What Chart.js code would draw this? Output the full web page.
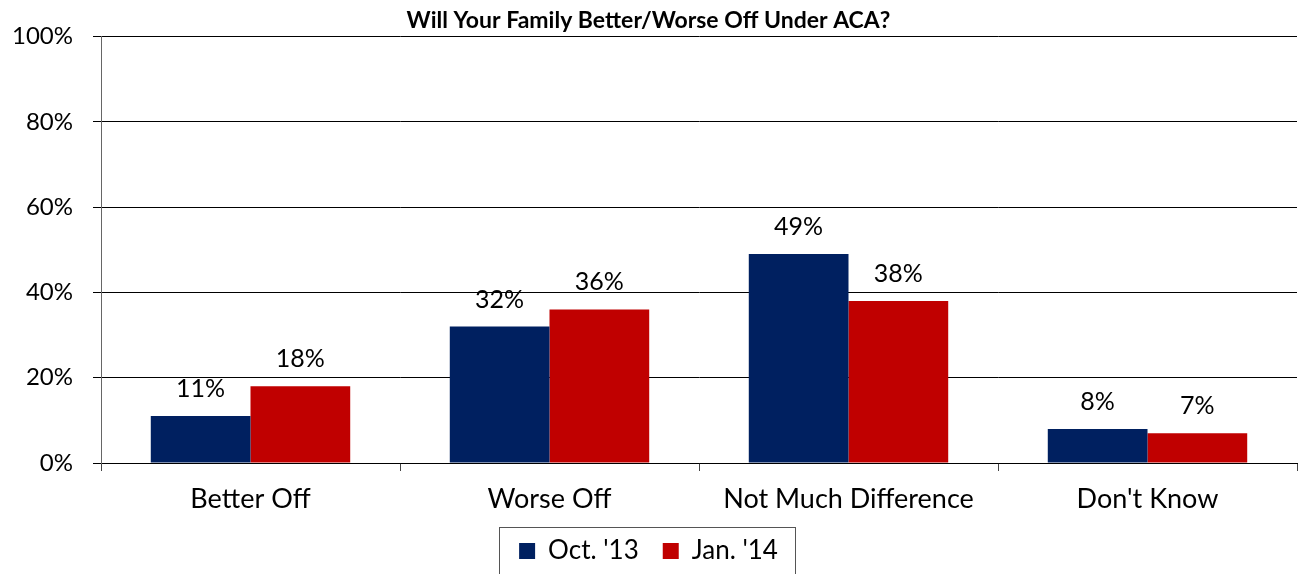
<!DOCTYPE html>
<html>
<head>
<meta charset="utf-8">
<script src="https://cdn.jsdelivr.net/npm/chart.js"></script>
<style>
  html, body { margin: 0; padding: 0; background: #fff; }
  #wrap { width: 1299px; height: 574px; }
</style>
</head>
<body>
<div id="wrap"><canvas id="acaChart"></canvas></div>
<script>
// date
var categories = ['Better Off', 'Worse Off', 'Not Much Difference', "Don't Know"];
var octValues = [11, 32, 49, 8];
var janValues = [18, 36, 38, 7];
var seriesNames = ["Oct. '13", "Jan. '14"];
var yTicks = [0, 20, 40, 60, 80, 100];

var FONT = 'Lato, "Open Sans", sans-serif';

// etichete cu valori deasupra barelor
var valueLabels = {
    id: 'valueLabels',
    afterDatasetsDraw: function(chart) {
        var ctx = chart.ctx;
        ctx.save();
        ctx.font = '25px ' + FONT;
        ctx.fillStyle = '#000';
        ctx.textAlign = 'center';
        ctx.textBaseline = 'alphabetic';
        chart.data.datasets.forEach(function(ds, i) {
            chart.getDatasetMeta(i).data.forEach(function(bar, j) {
                ctx.fillText(ds.data[j] + '%', bar.x, bar.y - 19);
            });
        });
        ctx.restore();
    }
};

// chenar in jurul legendei
var legendFrame = {
    id: 'legendFrame',
    afterDraw: function(chart) {
        var lg = chart.legend;
        if (!lg || !lg.legendHitBoxes.length) return;
        var boxes = lg.legendHitBoxes;
        var left = boxes[0].left - 20;
        var last = boxes[boxes.length - 1];
        var right = last.left + last.width + 17;
        var top = lg.top + 13;
        var ctx = chart.ctx;
        ctx.save();
        ctx.strokeStyle = '#555';
        ctx.lineWidth = 1;
        ctx.strokeRect(Math.round(left) + 0.5, Math.round(top) + 0.5, Math.round(right - left), chart.height);
        ctx.restore();
    }
};

var ctx = document.getElementById('acaChart').getContext('2d');
var acaChart = new Chart(ctx, {
    type: 'bar',
    data: {
        labels: categories,
        datasets: [
            { label: seriesNames[0], data: octValues, backgroundColor: '#002060', borderWidth: 0 },
            { label: seriesNames[1], data: janValues, backgroundColor: '#C00000', borderWidth: 0 }
        ]
    },
    options: {
        responsive: true,
        maintainAspectRatio: false,
        animation: false,
        categoryPercentage: 0.667,
        barPercentage: 1.0,
        layout: { padding: { left: 0, right: 2, top: 0, bottom: 0 } },
        plugins: {
            tooltip: { enabled: false },
            title: {
                display: true,
                text: 'Will Your Family Better/Worse Off Under ACA?',
                color: '#000',
                font: { family: FONT, size: 23, weight: 'bold' },
                padding: { top: 7, bottom: 2 }
            },
            legend: {
                position: 'bottom',
                labels: {
                    color: '#000',
                    font: { family: FONT, size: 26 },
                    boxWidth: 16,
                    boxHeight: 16,
                    padding: 24
                }
            }
        },
        scales: {
            x: {
                grid: {
                    display: true,
                    drawOnChartArea: false,
                    offset: true,
                    tickLength: 8,
                    color: '#444'
                },
                border: { display: true, color: '#000' },
                ticks: {
                    color: '#000',
                    padding: 12,
                    maxRotation: 0,
                    font: { family: FONT, size: 27 }
                },
                afterFit: function(scale) { scale.height = 51; }
            },
            y: {
                min: 0,
                max: 100,
                afterBuildTicks: function(scale) {
                    scale.ticks = yTicks.map(function(v) { return { value: v }; });
                },
                grid: { color: '#000', tickLength: 8 },
                border: { display: true, color: '#666' },
                ticks: {
                    color: '#000',
                    padding: 20,
                    font: { family: FONT, size: 24 },
                    callback: function(v) { return v + '%'; }
                },
                afterFit: function(scale) { scale.width = 101; }
            }
        }
    },
    plugins: [valueLabels, legendFrame]
});
</script>
</body>
</html>
